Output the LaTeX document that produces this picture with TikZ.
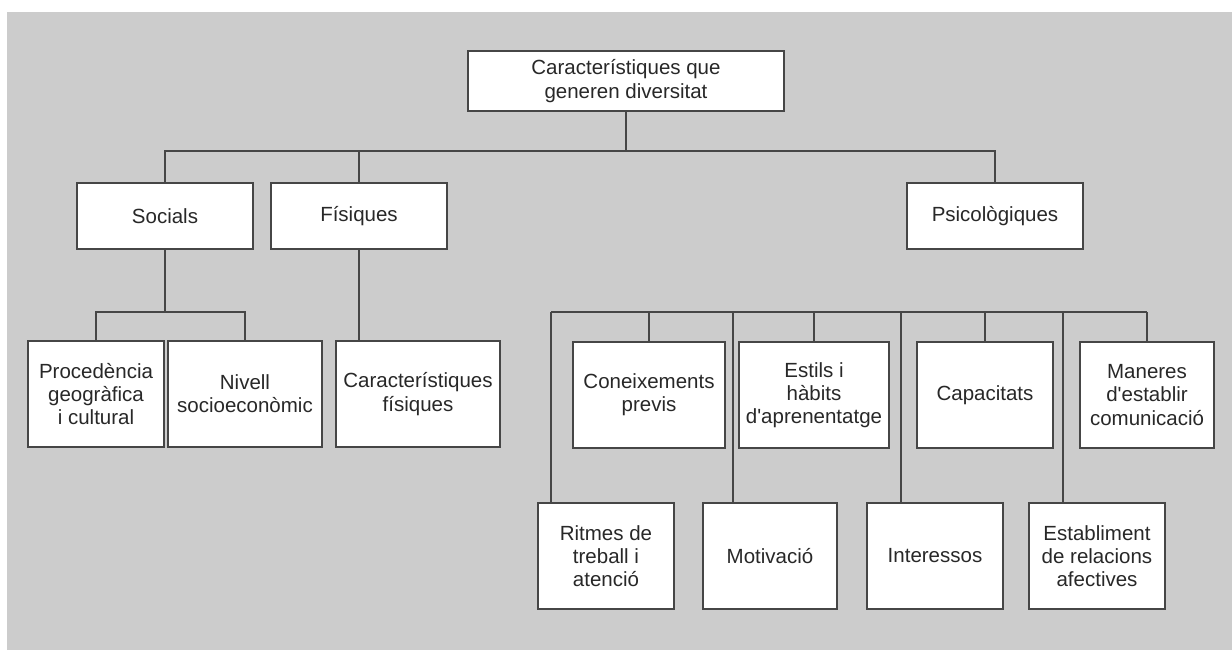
\documentclass[tikz,border=0pt]{standalone}
\usepackage{fontspec}
\setmainfont{Liberation Sans}
\definecolor{bggray}{RGB}{204,204,204}
\definecolor{linegray}{RGB}{70,70,70}
\definecolor{txtgray}{RGB}{40,40,40}
\newcommand{\apos}{\textquotesingle}
\begin{document}
\begin{tikzpicture}[x=1pt,y=-1pt,
  box/.style={draw=linegray,line width=1.4pt,fill=white,rectangle,inner sep=0pt,
    align=center,text=txtgray,font=\fontsize{20.5}{23.3}\selectfont},
  ln/.style={draw=linegray,line width=1.4pt}]
\useasboundingbox (0,0) rectangle (1232,650);
\fill[white] (0,0) rectangle (1232,650);
\fill[bggray] (7,12) rectangle (1232,650);
% level 1
\node[box,minimum width=316pt,minimum height=60pt] (top) at (626,81) {Característiques que\\generen diversitat};
% level 2
\node[box,minimum width=176pt,minimum height=66pt] (soc) at (165,216) {Socials};
\node[box,minimum width=176pt,minimum height=66pt] (fis) at (359,216) {Físiques};
\node[box,minimum width=176pt,minimum height=66pt] (psi) at (995,216) {Psicològiques};
% level 3 left
\node[box,minimum width=136pt,minimum height=106pt] (proc) at (96,394) {Procedència\\geogràfica\\i cultural};
\node[box,minimum width=154pt,minimum height=106pt] (niv) at (245,394) {Nivell\\socioeconòmic};
\node[box,minimum width=164pt,minimum height=106pt] (carf) at (418,394) {Característiques\\físiques};
% level 3 right, upper row
\node[box,minimum width=152pt,minimum height=106pt] (con) at (649,395) {Coneixements\\previs};
\node[box,minimum width=150pt,minimum height=106pt] (est) at (814,395) {Estils i\\hàbits\\d\apos aprenentatge};
\node[box,minimum width=136pt,minimum height=106pt] (cap) at (985,395) {Capacitats};
\node[box,minimum width=134pt,minimum height=106pt] (man) at (1147,395) {Maneres\\d\apos establir\\comunicació};
% level 3 right, lower row
\node[box,minimum width=136pt,minimum height=106pt] (rit) at (606,556) {Ritmes de\\treball i\\atenció};
\node[box,minimum width=134pt,minimum height=106pt] (mot) at (770,556) {Motivació};
\node[box,minimum width=136pt,minimum height=106pt] (int) at (935,556) {Interessos};
\node[box,minimum width=136pt,minimum height=106pt] (estb) at (1097,556) {Establiment\\de relacions\\afectives};
% connectors level 1 -> 2
\coordinate (j1) at (626,151);
\draw[ln] (top.south) -- (j1);
\draw[ln] (j1) -| (soc.north);
\draw[ln] (j1) -| (fis.north);
\draw[ln] (j1) -| (psi.north);
% socials
\coordinate (j2) at (165,312);
\draw[ln] (soc.south) -- (j2);
\draw[ln] (j2) -| (proc.north);
\draw[ln] (j2) -| (niv.north);
% fisiques
\draw[ln] (fis.south) -- (carf.north -| fis.south);
% psicologiques bar
\coordinate (p1) at (551,312);
\coordinate (p3) at (733,312);
\coordinate (p5) at (901,312);
\coordinate (p7) at (1063,312);
\draw[ln] (p1) -- (man.north |- p1);
\draw[ln] (p1) -- (p1 |- rit.north);
\draw[ln] (p3) -- (p3 |- mot.north);
\draw[ln] (p5) -- (p5 |- int.north);
\draw[ln] (p7) -- (p7 |- estb.north);
\draw[ln] (con.north |- p1) -- (con.north);
\draw[ln] (est.north |- p1) -- (est.north);
\draw[ln] (cap.north |- p1) -- (cap.north);
\draw[ln] (man.north |- p1) -- (man.north);
\end{tikzpicture}
\end{document}
